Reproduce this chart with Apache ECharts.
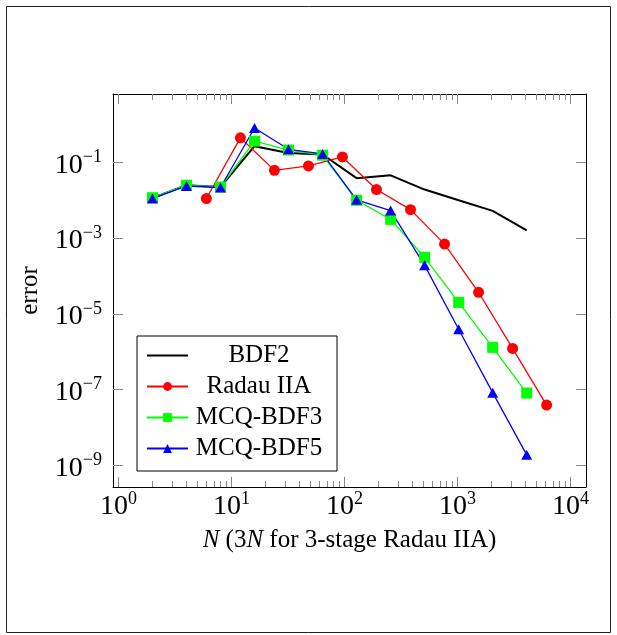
<!DOCTYPE html>
<html>
<head>
<meta charset="utf-8">
<script src="https://cdn.jsdelivr.net/npm/echarts@6/dist/echarts.min.js"></script>
<style>
html,body{margin:0;padding:0;background:#fff;}
#chart{width:617px;height:635px;}
</style>
</head>
<body>
<div id="chart"></div>
<script>
// ---- data ----
var nSteps = [2, 4, 8, 16, 32, 64, 128, 256, 512, 1024, 2048, 4096];
var nRadau = [6, 12, 24, 48, 96, 192, 384, 768, 1536, 3072, 6144];
var errBDF2 = [0.0115, 0.0247, 0.0222, 0.265, 0.176, 0.16, 0.038, 0.045, 0.019, 0.0099, 0.0052, 0.0016];
var errRadau = [0.011, 0.44, 0.061, 0.08, 0.138, 0.019, 0.0056, 6.9e-4, 3.7e-5, 1.22e-6, 3.9e-8];
var errMCQ3 = [0.0116, 0.0247, 0.0222, 0.36, 0.21, 0.153, 0.0099, 0.0031, 3.1e-4, 2.0e-5, 1.3e-6, 8.1e-8];
var errMCQ5 = [0.011, 0.0236, 0.0215, 0.80, 0.219, 0.165, 0.0102, 0.0053, 1.9e-4, 3.9e-6, 8.3e-8, 1.9e-9];
var seriesNames = ['BDF2', 'Radau IIA', 'MCQ-BDF3', 'MCQ-BDF5'];
var xMajorExp = [0, 1, 2, 3, 4];
var xMinorVals = [2,3,4,5,6,7,8,9,20,30,40,50,60,70,80,90,200,300,400,500,600,700,800,900,2000,3000,4000,5000,6000,7000,8000,9000];
var yMajorExp = [-9, -7, -5, -3, -1];
var xTitle = '{i|N} (3{i|N} for 3-stage Radau IIA)';
var yTitle = 'error';

// ---- helpers ----
function lg(v){ return Math.log10(v); }
function pairs(xs, ys){ return xs.map(function(x, i){ return [lg(x), lg(ys[i])]; }); }
var FONT = '"Liberation Serif", "DejaVu Serif", serif';
function expLabel(v){
  var e = Math.round(v);
  var s = e < 0 ? '\u2212' + (-e) : '' + e;
  return '{b|10}{s|' + s + '}';
}
var labelRich = {
  b: {fontFamily: FONT, fontSize: 28, lineHeight: 34, color: '#000'},
  s: {fontFamily: FONT, fontSize: 18, lineHeight: 23, verticalAlign: 'top', color: '#000'}
};
var XMIN = -0.048, XMAX = 4.137, YMIN = -9.57, YMAX = 0.80;
// plain line icon (no marker) for the BDF2 legend entry
var LINE_ICON = 'path://M0,0L0.01,0L0,0.01ZM0,4.5L41,4.5L41,6.5L0,6.5ZM41,11L40.99,11L41,10.99Z';

function xAxisDef(pos, major, showLabel){
  return {
    type: 'value', position: pos, min: XMIN, max: XMAX,
    axisLine: {show: major, onZero: false, lineStyle: {color: '#000', width: 1}},
    splitLine: {show: false},
    axisTick: {show: true, inside: true, length: major ? 10 : 6,
      customValues: major ? xMajorExp : xMinorVals.map(lg),
      lineStyle: {color: '#888', width: 1}},
    axisLabel: showLabel ? {show: true, customValues: xMajorExp, formatter: expLabel,
      rich: labelRich, margin: 3} : {show: false}
  };
}

var chart = echarts.init(document.getElementById('chart'), null, {renderer: 'canvas'});
var option = {
  animation: false,
  backgroundColor: '#fff',
  graphic: [{
    type: 'rect', z: -10, silent: true,
    shape: {x: 6.5, y: 6.5, width: 604, height: 626},
    style: {fill: 'none', stroke: '#222', lineWidth: 1}
  }],
  grid: {left: 113, top: 94, width: 473, height: 393, outerBoundsMode: 'none', containLabel: false},
  xAxis: [
    Object.assign(xAxisDef('bottom', true, true), {
      name: xTitle, nameLocation: 'middle', nameGap: 41,
      nameTextStyle: {fontFamily: FONT, fontSize: 25, color: '#000',
        rich: {i: {fontFamily: FONT, fontSize: 25, fontStyle: 'italic', color: '#000'}}}
    }),
    xAxisDef('bottom', false, false),
    xAxisDef('top', true, false),
    xAxisDef('top', false, false)
  ],
  yAxis: [
    {
      type: 'value', position: 'left', min: YMIN, max: YMAX,
      name: yTitle, nameLocation: 'middle', nameGap: 70, nameRotate: 90,
      nameTextStyle: {fontFamily: FONT, fontSize: 25, color: '#000'},
      axisLine: {show: true, onZero: false, lineStyle: {color: '#000', width: 1}},
      splitLine: {show: false},
      axisTick: {show: true, inside: true, length: 10, customValues: yMajorExp,
        lineStyle: {color: '#888', width: 1}},
      axisLabel: {show: true, customValues: yMajorExp, formatter: expLabel,
        rich: labelRich, margin: 11, padding: [6, 0, 0, 0]}
    },
    {
      type: 'value', position: 'right', min: YMIN, max: YMAX,
      axisLine: {show: true, onZero: false, lineStyle: {color: '#000', width: 1}},
      splitLine: {show: false},
      axisTick: {show: true, inside: true, length: 10, customValues: yMajorExp,
        lineStyle: {color: '#888', width: 1}},
      axisLabel: {show: false}
    }
  ],
  legend: {
    orient: 'vertical', left: 137, top: 336,
    backgroundColor: '#fff', borderColor: '#000', borderWidth: 1, borderRadius: 0,
    padding: [7, 12, 10, 9], itemGap: 6, itemWidth: 41, itemHeight: 11,
    data: [
      {name: seriesNames[0], icon: LINE_ICON, itemStyle: {color: '#000', borderWidth: 0}},
      seriesNames[1], seriesNames[2], seriesNames[3]
    ],
    formatter: function(name){ return '{c|' + name + '}'; },
    textStyle: {fontFamily: FONT, fontSize: 25, color: '#000',
      rich: {c: {fontFamily: FONT, fontSize: 25, lineHeight: 24, width: 132, align: 'center', color: '#000'}}}
  },
  series: [
    {name: seriesNames[0], type: 'line', data: pairs(nSteps, errBDF2), symbol: 'none',
      color: '#000', lineStyle: {color: '#000', width: 2}},
    {name: seriesNames[1], type: 'line', data: pairs(nRadau, errRadau), symbol: 'circle', symbolSize: 11,
      color: '#ff0000', itemStyle: {color: '#ff0000'}, lineStyle: {color: '#ff0000', width: 1.3}},
    {name: seriesNames[2], type: 'line', data: pairs(nSteps, errMCQ3), symbol: 'rect', symbolSize: 11,
      color: '#00ff00', itemStyle: {color: '#00ff00'}, lineStyle: {color: '#00ff00', width: 1.3}},
    {name: seriesNames[3], type: 'line', data: pairs(nSteps, errMCQ5), symbol: 'triangle', symbolSize: [11, 10],
      color: '#0000ff', itemStyle: {color: '#0000ff'}, lineStyle: {color: '#0000ff', width: 1.3}}
  ]
};
chart.setOption(option);
</script>
</body>
</html>
